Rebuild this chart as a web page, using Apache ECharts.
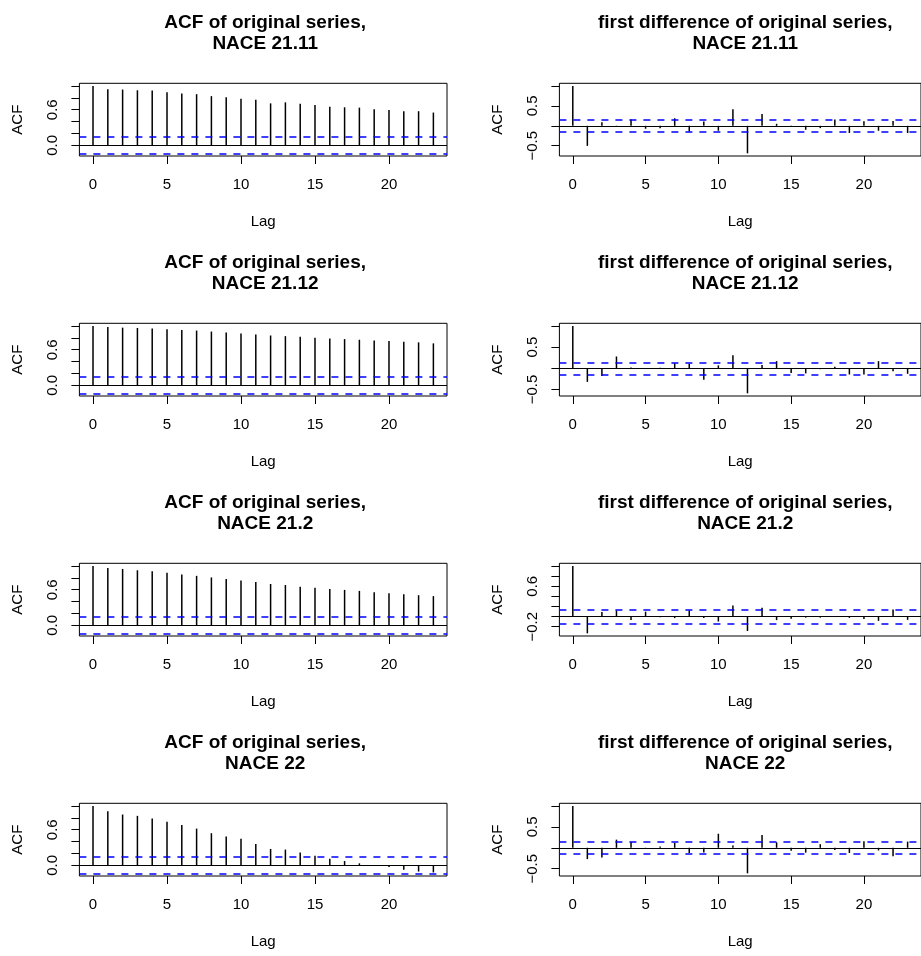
<!DOCTYPE html>
<html lang="en">
<head>
    <meta charset="UTF-8">
    <title>ACF panels</title>
    <script src="https://cdn.jsdelivr.net/npm/echarts@6/dist/echarts.min.js"></script>
</head>
<body style="margin:0;background:#fff;">
   <div id="main" style="width: 921px;height:956px;"></div>
   <script type="text/javascript">
       // lags shown on every panel
       var lags = [0, 1, 2, 3, 4, 5, 6, 7, 8, 9, 10, 11, 12, 13, 14, 15, 16, 17, 18, 19, 20, 21, 22, 23];

       // ACF of original series (left column)
       var acf2111 = [1.0, 0.945, 0.94, 0.928, 0.923, 0.895, 0.873, 0.862, 0.829, 0.812, 0.785, 0.768, 0.707, 0.724, 0.702, 0.68, 0.652, 0.641, 0.635, 0.608, 0.597, 0.575, 0.575, 0.552];
       var acf2112 = [1.0, 0.983, 0.972, 0.967, 0.956, 0.945, 0.934, 0.923, 0.906, 0.89, 0.873, 0.856, 0.84, 0.829, 0.818, 0.801, 0.79, 0.779, 0.768, 0.757, 0.746, 0.735, 0.724, 0.707];
       var acf212 = [1.0, 0.967, 0.95, 0.928, 0.912, 0.884, 0.856, 0.834, 0.807, 0.779, 0.757, 0.729, 0.696, 0.68, 0.652, 0.635, 0.613, 0.597, 0.58, 0.558, 0.541, 0.525, 0.508, 0.492];
       var acf22 = [1.0, 0.912, 0.856, 0.834, 0.79, 0.735, 0.68, 0.619, 0.541, 0.486, 0.448, 0.359, 0.276, 0.265, 0.215, 0.16, 0.11, 0.072, 0.033, -0.005, -0.028, -0.077, -0.105, -0.12];

       // ACF of first differences (right column)
       var d2111 = [1.0, -0.504, 0.09, -0.03, 0.157, -0.074, -0.058, 0.19, -0.14, 0.107, -0.124, 0.413, -0.69, 0.298, 0.05, -0.02, -0.1, -0.058, 0.157, -0.18, 0.116, -0.124, 0.124, -0.18];
       var d2112 = [1.0, -0.32, -0.18, 0.28, 0.02, -0.015, 0.015, 0.12, 0.11, -0.27, 0.07, 0.31, -0.59, 0.08, 0.17, -0.11, -0.12, -0.02, 0.04, -0.145, -0.145, 0.17, -0.07, -0.13];
       var d212 = [1.0, -0.33, 0.09, 0.12, -0.065, 0.097, -0.013, -0.03, 0.12, -0.026, -0.097, 0.22, -0.284, 0.174, -0.07, -0.04, -0.02, -0.02, -0.005, -0.025, -0.045, -0.084, 0.142, -0.065];
       var d22 = [1.0, -0.27, -0.23, 0.195, 0.14, -0.015, 0.03, 0.117, -0.125, -0.11, 0.336, 0.055, -0.61, 0.305, 0.133, -0.07, -0.117, 0.086, -0.055, -0.125, 0.156, -0.063, -0.203, 0.148];

       var ci = 0.135;

       // tick positions and shown tick labels
       var xTicks = [0, 5, 10, 15, 20];
       var leftTicks = [0, 0.2, 0.4, 0.6, 0.8, 1.0];
       var leftLabels = [0, 0.6];
       var diffTicks = [-0.5, 0, 0.5, 1.0];
       var diffLabels = [-0.5, 0.5];
       var diffTicks3 = [-0.2, 0, 0.2, 0.4, 0.6, 0.8, 1.0];
       var diffLabels3 = [-0.2, 0.6];

       var names = ['NACE 21.11', 'NACE 21.12', 'NACE 21.2', 'NACE 22'];
       var leftTitle = 'ACF of original series,';
       var rightTitle = 'first difference of original series,';

       var panels = [
           {col: 0, row: 0, vals: acf2111, ticks: leftTicks, labels: leftLabels, title: leftTitle},
           {col: 1, row: 0, vals: d2111, ticks: diffTicks, labels: diffLabels, title: rightTitle},
           {col: 0, row: 1, vals: acf2112, ticks: leftTicks, labels: leftLabels, title: leftTitle},
           {col: 1, row: 1, vals: d2112, ticks: diffTicks, labels: diffLabels, title: rightTitle},
           {col: 0, row: 2, vals: acf212, ticks: leftTicks, labels: leftLabels, title: leftTitle},
           {col: 1, row: 2, vals: d212, ticks: diffTicks3, labels: diffLabels3, title: rightTitle},
           {col: 0, row: 3, vals: acf22, ticks: leftTicks, labels: leftLabels, title: leftTitle},
           {col: 1, row: 3, vals: d22, ticks: diffTicks, labels: diffLabels, title: rightTitle}
       ];

       var FONT = '"Liberation Sans", Arial, Helvetica, sans-serif';
       var plotW = 367.6, plotH = 72.7;
       var colLeft = [79.4, 559.4];
       var rowTop = 83.3, rowStep = 240;

       var grids = [], xAxes = [], yAxes = [], series = [], titles = [];

       panels.forEach(function (p, i) {
           var left = colLeft[p.col];
           var top = rowTop + p.row * rowStep;
           // R style ylim: range of values and CI, padded 4%
           var lo = Math.min(Math.min.apply(null, p.vals), -ci);
           var hi = Math.max(Math.max.apply(null, p.vals), ci);
           var pad = (hi - lo) * 0.04;

           grids.push({
               left: left, top: top, width: plotW, height: plotH,
               show: true, borderColor: '#000', borderWidth: 1, backgroundColor: 'transparent'
           });
           xAxes.push({
               type: 'value', gridIndex: i, min: -0.92, max: 23.92,
               name: 'Lag', nameLocation: 'middle', nameGap: 58,
               nameTextStyle: {fontFamily: FONT, fontSize: 15, color: '#000'},
               axisLine: {show: false, onZero: false},
               axisTick: {show: true, length: 8, customValues: xTicks, lineStyle: {color: '#000'}},
               axisLabel: {customValues: xTicks, margin: 21, fontFamily: FONT, fontSize: 15, color: '#000'},
               splitLine: {show: false}
           });
           yAxes.push({
               type: 'value', gridIndex: i, min: lo - pad, max: hi + pad,
               name: 'ACF', nameLocation: 'middle', nameGap: 54,
               nameTextStyle: {fontFamily: FONT, fontSize: 15, color: '#000'},
               axisLine: {show: false, onZero: false},
               axisTick: {show: true, length: 8, customValues: p.ticks, lineStyle: {color: '#000'}},
               axisLabel: {
                   customValues: p.labels, rotate: 90, margin: 19,
                   fontFamily: FONT, fontSize: 15, color: '#000',
                   formatter: function (v) { return v.toFixed(1).replace('-', '\u2212'); }
               },
               splitLine: {show: false}
           });
           series.push({
               type: 'bar', xAxisIndex: i, yAxisIndex: i,
               data: lags.map(function (l, k) { return [l, p.vals[k]]; }),
               barWidth: 1.5,
               itemStyle: {color: '#000'},
               silent: true,
               markLine: {
                   silent: true, symbol: 'none', animation: false,
                   label: {show: false},
                   lineStyle: {color: '#0000ff', type: [7, 7], width: 1.5, opacity: 1},
                   data: [
                       {yAxis: ci},
                       {yAxis: -ci},
                       {yAxis: 0, lineStyle: {color: '#000', type: 'solid', width: 1}}
                   ]
               }
           });
           titles.push({
               text: p.title + '\n' + names[p.row],
               left: left + plotW / 2 - 3, top: 7 + p.row * rowStep,
               textAlign: 'center',
               textStyle: {fontFamily: FONT, fontSize: 19, fontWeight: 'bold', lineHeight: 21.5, color: '#000'}
           });
       });

       var myChart = echarts.init(document.getElementById('main'));
       myChart.setOption({
           animation: false,
           backgroundColor: '#fff',
           title: titles,
           grid: grids,
           xAxis: xAxes,
           yAxis: yAxes,
           series: series
       });
   </script>
</body>
</html>
